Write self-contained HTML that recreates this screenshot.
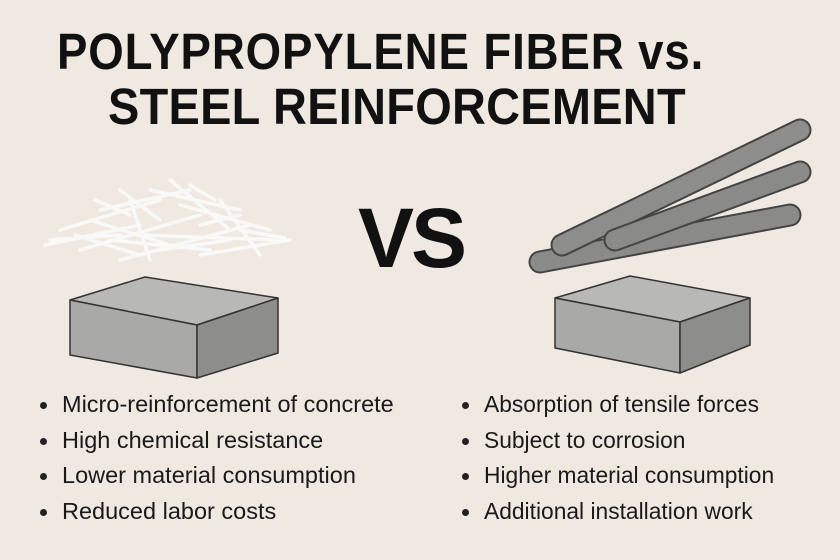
<!DOCTYPE html>
<html><head><style>
body{margin:0;width:840px;height:560px;background:#efe9e1;position:relative;overflow:hidden;font-family:"Liberation Sans",sans-serif}
.t{position:absolute;font-weight:bold;font-size:51px;color:#111;letter-spacing:1px;white-space:nowrap;transform-origin:0 0}
ul{position:absolute;margin:0;padding:0;list-style:none;font-size:23.5px;color:#1a1a1a}
li{height:35.5px;position:relative;padding-left:22px;white-space:nowrap}
li:before{content:"";position:absolute;left:0;top:11px;width:7px;height:7px;border-radius:50%;background:#222}
</style></head><body>
<div class="t" style="top:22px;left:57px;transform:scaleX(0.894)">POLYPROPYLENE FIBER vs.</div>
<div class="t" style="top:77px;left:108px;letter-spacing:0.3px;transform:scaleX(0.92)">STEEL REINFORCEMENT</div>
<div style="position:absolute;left:358px;top:190px;font-size:84px;font-weight:bold;color:#111;letter-spacing:-3px">VS</div>
<svg width="840" height="560" style="position:absolute;left:0;top:0">
<g stroke="#fafafa" stroke-width="3.5" stroke-linecap="round" opacity="0.95">
<path d="M45 245L140 225M60 230L160 200M80 250L200 215M100 210L190 190M120 260L250 225M140 235L280 240M150 190L240 210M170 180L230 230M200 255L290 240M90 220L170 245M130 200L150 260M110 240L210 250M180 205L270 230M160 220L120 190M220 200L260 255M75 235L140 255M50 240L120 235M95 200L130 215M190 185L215 200M240 230L285 238M160 250L230 240M200 225L240 215"/>
</g>
<g stroke="#333" stroke-width="1.5" stroke-linejoin="round">
<polygon points="70,300 145,277 278,298 197,325" fill="#b8b8b6"/>
<polygon points="70,300 197,325 197,378 70,355" fill="#a9a9a7"/>
<polygon points="197,325 278,298 278,353 197,378" fill="#8d8d8b"/>
<polygon points="555,298 630,276 750,298 680,322" fill="#b8b8b6"/>
<polygon points="555,298 680,322 680,373 555,348" fill="#a9a9a7"/>
<polygon points="680,322 750,298 750,345 680,373" fill="#8d8d8b"/>
</g>
<g stroke-linecap="round">
<path d="M540 262L790 215" stroke="#444" stroke-width="23"/><path d="M540 262L790 215" stroke="#8a8a88" stroke-width="19"/>
<path d="M562 245L800 130" stroke="#444" stroke-width="23"/><path d="M562 245L800 130" stroke="#8d8d8b" stroke-width="19"/>
<path d="M615 240L800 172" stroke="#444" stroke-width="23"/><path d="M615 240L800 172" stroke="#8a8a88" stroke-width="19"/>
</g>
</svg>
<ul style="left:40px;top:391px"><li>Micro-reinforcement of concrete</li><li>High chemical resistance</li><li>Lower material consumption</li><li>Reduced labor costs</li></ul>
<ul style="left:462px;top:391px;font-size:22.8px"><li>Absorption of tensile forces</li><li>Subject to corrosion</li><li>Higher material consumption</li><li>Additional installation work</li></ul>
</body></html>
